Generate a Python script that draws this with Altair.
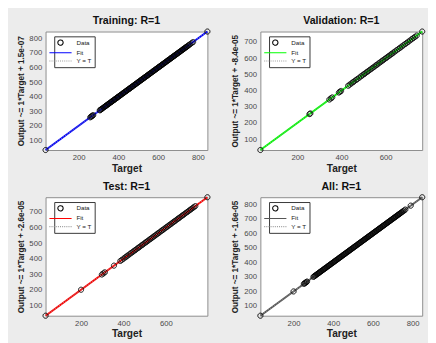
import altair as alt
import pandas as pd

# ---- data (targets; outputs coincide since R=1) ----
train_target = [33, 258, 262, 266, 269, 273, 306, 309, 313, 316, 320, 325, 330, 334, 337, 341, 345,
                349, 352, 356, 361, 364, 367, 371, 376, 379, 382, 386, 391, 394, 397, 401, 405, 409,
                412, 416, 421, 424, 427, 431, 435, 439, 442, 446, 451, 454, 457, 461, 465, 469, 472,
                476, 481, 484, 487, 491, 495, 499, 502, 506, 511, 514, 517, 521, 525, 529, 532, 536,
                541, 544, 547, 551, 555, 559, 562, 566, 571, 574, 577, 581, 585, 589, 592, 596, 601,
                604, 607, 611, 615, 619, 622, 626, 631, 634, 637, 641, 645, 649, 652, 656, 661, 664,
                667, 671, 675, 679, 682, 686, 691, 694, 697, 701, 705, 709, 712, 716, 721, 724, 727,
                731, 735, 739, 742, 746, 751, 756, 762, 769, 776, 848]
train_output = [33, 258, 262, 266, 269, 273, 306, 309, 313, 316, 320, 325, 330, 334, 337, 341, 345,
                349, 352, 356, 361, 364, 367, 371, 376, 379, 382, 386, 391, 394, 397, 401, 405, 409,
                412, 416, 421, 424, 427, 431, 435, 439, 442, 446, 451, 454, 457, 461, 465, 469, 472,
                476, 481, 484, 487, 491, 495, 499, 502, 506, 511, 514, 517, 521, 525, 529, 532, 536,
                541, 544, 547, 551, 555, 559, 562, 566, 571, 574, 577, 581, 585, 589, 592, 596, 601,
                604, 607, 611, 615, 619, 622, 626, 631, 634, 637, 641, 645, 649, 652, 656, 661, 664,
                667, 671, 675, 679, 682, 686, 691, 694, 697, 701, 705, 709, 712, 716, 721, 724, 727,
                731, 735, 739, 742, 746, 751, 756, 762, 769, 776, 848]

val_target = [33, 255, 259, 345, 352, 358, 388, 393, 398, 430, 437, 445, 452, 458, 466, 472, 480,
              488, 495, 502, 508, 515, 521, 528, 535, 541, 548, 555, 561, 568, 575, 582, 588, 595,
              602, 608, 615, 622, 628, 635, 642, 650, 658, 665, 672, 680, 688, 695, 702, 710, 718,
              725, 732, 740, 765]
val_output = [33, 255, 259, 345, 352, 358, 388, 393, 398, 430, 437, 445, 452, 458, 466, 472, 480,
              488, 495, 502, 508, 515, 521, 528, 535, 541, 548, 555, 561, 568, 575, 582, 588, 595,
              602, 608, 615, 622, 628, 635, 642, 650, 658, 665, 672, 680, 688, 695, 702, 710, 718,
              725, 732, 740, 765]

test_target = [33, 200, 298, 305, 312, 355, 385, 392, 400, 408, 414, 420, 428, 435, 442, 448, 455,
               461, 468, 474, 480, 487, 493, 500, 506, 512, 518, 525, 531, 537, 543, 550, 556, 562,
               568, 575, 581, 587, 593, 600, 606, 612, 618, 625, 631, 637, 643, 650, 656, 662, 668,
               675, 681, 687, 693, 700, 706, 712, 718, 725, 731, 738, 795]
test_output = [33, 200, 298, 305, 312, 355, 385, 392, 400, 408, 414, 420, 428, 435, 442, 448, 455,
               461, 468, 474, 480, 487, 493, 500, 506, 512, 518, 525, 531, 537, 543, 550, 556, 562,
               568, 575, 581, 587, 593, 600, 606, 612, 618, 625, 631, 637, 643, 650, 656, 662, 668,
               675, 681, 687, 693, 700, 706, 712, 718, 725, 731, 738, 795]

all_target = [33, 200, 252, 256, 260, 264, 268, 300, 304, 308, 312, 316, 321, 325, 329, 333, 337,
              341, 346, 350, 354, 358, 362, 366, 371, 375, 379, 383, 387, 391, 396, 400, 404, 408,
              412, 416, 421, 425, 429, 433, 437, 441, 446, 450, 454, 458, 462, 466, 471, 475, 479,
              483, 487, 491, 496, 500, 504, 508, 512, 516, 521, 525, 529, 533, 537, 541, 546, 550,
              554, 558, 562, 566, 571, 575, 579, 583, 587, 591, 596, 600, 604, 608, 612, 616, 621,
              625, 629, 633, 637, 641, 646, 650, 654, 658, 662, 666, 671, 675, 679, 683, 687, 691,
              696, 700, 704, 708, 712, 716, 721, 725, 729, 733, 737, 741, 746, 751, 757, 763, 790, 848]
all_output = [33, 200, 252, 256, 260, 264, 268, 300, 304, 308, 312, 316, 321, 325, 329, 333, 337,
              341, 346, 350, 354, 358, 362, 366, 371, 375, 379, 383, 387, 391, 396, 400, 404, 408,
              412, 416, 421, 425, 429, 433, 437, 441, 446, 450, 454, 458, 462, 466, 471, 475, 479,
              483, 487, 491, 496, 500, 504, 508, 512, 516, 521, 525, 529, 533, 537, 541, 546, 550,
              554, 558, 562, 566, 571, 575, 579, 583, 587, 591, 596, 600, 604, 608, 612, 616, 621,
              625, 629, 633, 637, 641, 646, 650, 654, 658, 662, 666, 671, 675, 679, 683, 687, 691,
              696, 700, 704, 708, 712, 716, 721, 725, 729, 733, 737, 741, 746, 751, 757, 763, 790, 848]

titles = ["Training: R=1", "Validation: R=1", "Test: R=1", "All: R=1"]
ylabels = ["Output ~= 1*Target + 1.5e-07", "Output ~= 1*Target + -8.4e-05",
           "Output ~= 1*Target + -2.6e-05", "Output ~= 1*Target + -1.6e-05"]
fit_colors = ["#0000ff", "#00ff00", "#ff0000", "#555555"]
x_ticks = [[200, 400, 600, 800], [200, 400, 600], [200, 400, 600], [200, 400, 600, 800]]
y_ticks = [[100, 200, 300, 400, 500, 600, 700, 800], [100, 200, 300, 400, 500, 600, 700],
           [100, 200, 300, 400, 500, 600, 700], [100, 200, 300, 400, 500, 600, 700, 800]]
legend_labels = ["Data", "Fit", "Y = T"]

LINE = "M-4.2,0H4.2"


def panel(i, targets, outputs):
    lo, hi = min(targets), max(targets)
    pts = pd.DataFrame({"Target": targets, "Output": outputs, "series": "Data"})
    ends = pd.DataFrame({"Target": [lo, hi], "Output": [lo, hi]})
    xs = alt.Scale(domain=[lo, hi], nice=False, zero=False)
    ys = alt.Scale(domain=[lo, hi], nice=False, zero=False)
    x = alt.X("Target:Q", scale=xs, axis=alt.Axis(values=x_ticks[i], title="Target"))
    y = alt.Y("Output:Q", scale=ys, axis=alt.Axis(values=y_ticks[i], title=ylabels[i]))
    fit = alt.Chart(ends).mark_line(color=fit_colors[i], strokeWidth=2).encode(x=x, y=y)
    yt = alt.Chart(ends).mark_line(color="#9a9a9a", strokeWidth=1, strokeDash=[1, 1.5]).encode(x=x, y=y)
    leg = alt.Legend(title=None, orient="none", legendX=9, legendY=5, fillColor="#ffffff",
                     strokeColor="#333333", padding=3, labelFontSize=6.5, labelColor="#222222",
                     labelFont="Liberation Sans",
                     symbolSize=30, symbolStrokeWidth=1.1, rowPadding=1.5, labelOffset=13,
                     symbolType="circle")
    p = alt.Chart(pts).mark_point(filled=False, size=28, strokeWidth=1.0, opacity=1).encode(
        x=x, y=y,
        color=alt.Color("series:N", scale=alt.Scale(domain=legend_labels,
                        range=["#000000", fit_colors[i], "#9a9a9a"]), legend=leg),
        shape=alt.Shape("series:N", scale=alt.Scale(domain=legend_labels,
                        range=["circle", LINE, LINE]), legend=leg),
        strokeDash=alt.StrokeDash("series:N", scale=alt.Scale(domain=legend_labels,
                        range=[[1, 0], [1, 0], [1, 1.2]]), legend=leg),
    )
    return alt.layer(fit, yt, p).properties(title=titles[i], width=168, height=123)


charts = [panel(0, train_target, train_output), panel(1, val_target, val_output),
          panel(2, test_target, test_output), panel(3, all_target, all_output)]

chart = alt.concat(*charts, columns=2, spacing={"row": 6, "column": 18}).resolve_scale(
    x="independent", y="independent", color="independent", shape="independent",
    strokeDash="independent").resolve_legend(color="independent", shape="independent",
    strokeDash="independent").properties(
    padding={"left": 8, "top": 0, "right": 0, "bottom": 0},
    background="#ececec",
).configure_view(fill="#ffffff", stroke="#8a8a8a", strokeWidth=1).configure_axis(
    domain=False, grid=False, ticks=False, labelFont="Liberation Sans", labelFontSize=8,
    labelColor="#4a4a4a", labelPadding=4, titleFont="Liberation Sans", titleFontWeight="bold",
    titleColor="#222222",
).configure_axisX(titleFontSize=10.5, titlePadding=2).configure_axisY(
    titleFontSize=8.5, titlePadding=4).configure_title(
    font="Liberation Sans", fontSize=11, fontWeight="bold", color="#111111", offset=1,
    anchor="middle")

chart.save("out.html", embed_options={"renderer": "svg", "actions": False})
